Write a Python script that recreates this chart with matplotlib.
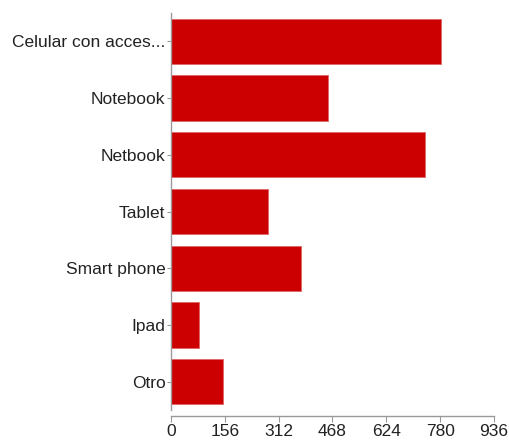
import matplotlib.pyplot as plt

categories = ["Celular con acces...", "Notebook", "Netbook", "Tablet", "Smart phone", "Ipad", "Otro"]
values = [782, 456, 736, 280, 377, 81, 152]
x_ticks = [0, 156, 312, 468, 624, 780, 936]

plt.rcParams['font.family'] = ['Liberation Sans', 'DejaVu Sans']

fig = plt.figure(figsize=(5.1, 4.42), dpi=100)
ax = fig.add_axes([171 / 510, (442 - 410) / 442, (494 - 171) / 510, (410 - 13) / 442])

pos = list(range(len(categories)))
ax.barh(pos, values, height=0.8, color='#cc0000', edgecolor='#e06666', linewidth=0.6)

ax.set_ylim(len(categories) - 0.5, -0.5)
ax.set_xlim(0, 936)
ax.set_xticks(x_ticks)
ax.set_yticks(pos)
ax.set_yticklabels(categories)

for s in ['top', 'right']:
    ax.spines[s].set_visible(False)
for s in ['left', 'bottom']:
    ax.spines[s].set_color('#999999')
    ax.spines[s].set_linewidth(1)
ax.spines['bottom'].set_position(('outward', 4))

ax.tick_params(axis='y', length=3, color='#999999', labelsize=12.5, labelcolor='#222222', pad=1)
ax.tick_params(axis='x', length=4, color='#999999', labelsize=12.5, labelcolor='#222222', pad=2)

fig.savefig('out.png', dpi=100)
